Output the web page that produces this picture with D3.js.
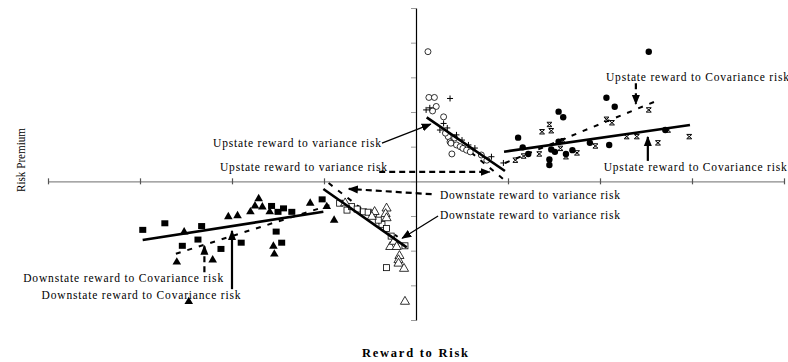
<!DOCTYPE html>
<html>
<head>
<meta charset="utf-8">
<script src="https://cdn.jsdelivr.net/npm/d3@7"></script>
<style>
  body { margin: 0; background: #fff; }
  text { font-family: "Liberation Serif", "Times New Roman", serif; fill: #000; }
</style>
</head>
<body>
<svg id="chart" width="788" height="362"></svg>
<script>
// axis ticks (reward to risk / risk premium units)
const xTicks = [-4, -3, -2, -1, 0, 1, 2, 3, 4];
const yTicks = [-4, -3, -2, -1, 0, 1, 2, 3, 4, 5];

// upstate, variance risk: open circles and plus signs
const upVarCircles = [
  [0.13, 3.74], [0.14, 2.42], [0.20, 2.42], [0.22, 2.16], [0.18, 2.03], [0.30, 1.86],
  [0.35, 1.29], [0.37, 1.14], [0.38, 1.10], [0.44, 1.05], [0.48, 1.00], [0.51, 0.95],
  [0.55, 0.90], [0.59, 0.85], [0.39, 0.79], [0.71, 0.76], [0.77, 0.61], [0.32, 1.39],
  [0.42, 1.25]
];
const upVarPlus = [
  [0.37, 2.39], [0.11, 2.06], [0.15, 2.12], [0.30, 1.67], [0.26, 1.48], [0.44, 1.34],
  [0.34, 1.54], [0.50, 1.19], [0.64, 0.96], [0.82, 0.71], [0.95, 0.53], [0.57, 1.05]
];
// upstate, covariance risk: filled circles and asterisks
const upCovDots = [
  [2.53, 3.74], [2.07, 2.41], [2.16, 2.15], [1.55, 2.01], [1.60, 1.85], [1.11, 1.26],
  [1.16, 0.98], [1.55, 1.14], [1.47, 0.92], [1.70, 0.90], [1.45, 0.63], [1.45, 0.47],
  [1.22, 0.79], [1.63, 0.79], [1.89, 1.11], [2.10, 1.05], [2.71, 1.48], [1.51, 0.85]
];
const upCovStars = [
  [1.45, 1.64], [1.37, 1.43], [1.47, 1.46], [2.07, 1.79], [2.13, 1.69], [2.53, 2.06],
  [2.29, 1.29], [2.40, 1.29], [2.63, 1.11], [2.97, 1.29], [2.74, 1.48], [1.17, 0.73],
  [1.34, 0.79], [1.57, 0.95], [1.63, 0.71], [1.75, 0.82], [1.95, 1.02], [1.60, 1.17],
  [1.08, 0.61]
];
// downstate, covariance risk: filled squares and filled triangles
const downCovSquares = [
  [-2.97, -1.40], [-2.73, -1.21], [-2.33, -1.29], [-2.54, -1.86], [-2.37, -1.68],
  [-2.12, -1.95], [-1.90, -1.77], [-1.57, -0.71], [-1.44, -0.78], [-1.50, -0.88],
  [-1.35, -0.88], [-1.02, -0.52], [-1.52, -1.45], [-1.46, -1.77]
];
const downCovTriangles = [
  [-1.71, -0.50], [-2.04, -1.02], [-1.94, -0.99], [-2.52, -1.46], [-1.80, -0.88],
  [-1.59, -0.88], [-1.55, -1.87], [-1.54, -2.10], [-2.21, -2.27], [-2.60, -2.33],
  [-1.15, -0.63], [-0.97, -0.73], [-0.89, -1.12], [-2.47, -3.47], [-1.67, -0.74],
  [-1.75, -0.71]
];
// downstate, variance risk: open squares and open triangles
const downVarSquares = [
  [-0.75, -0.83], [-0.70, -0.73], [-0.64, -0.80], [-0.57, -0.88], [-0.52, -0.89],
  [-0.46, -0.92], [-0.37, -1.24], [-0.32, -1.36], [-0.41, -1.12], [-0.27, -1.58],
  [-0.12, -1.86], [-0.32, -2.49], [-0.83, -0.63]
];
const downVarTriangles = [
  [-0.32, -0.78], [-0.33, -0.94], [-0.32, -1.06], [-0.45, -0.88], [-0.48, -1.02],
  [-0.28, -1.89], [-0.24, -1.74], [-0.21, -1.89], [-0.18, -2.15], [-0.19, -2.27],
  [-0.19, -2.37], [-0.13, -2.52], [-0.12, -3.47], [-0.77, -0.63]
];

// fitted lines: [start, end]
const upVarFit = [[0.116, 1.846], [0.967, 0.297]];
const upVarFitDash = [[0.50, 1.05], [0.97, 0.02]];
const upCovFit = [[0.957, 0.854], [2.978, 1.623]];
const upCovFitDash = [[0.967, 0.528], [2.652, 2.36]];
const downCovFit = [[-2.971, -1.694], [-1.007, -0.878]];
const downCovFitDash = [[-2.61, -2.09], [-0.935, -0.684]];
const downVarFit = [[-1.007, -0.222], [-0.101, -1.904]];
const downVarFitDash = [[-0.95, -0.05], [-0.20, -1.60]];

// callouts: label, label anchor, arrow from/to, arrow kind
const labels = [
  "Upstate reward to Covariance risk",
  "Upstate reward to Covariance risk",
  "Upstate reward to variance risk",
  "Upstate reward to variance risk",
  "Downstate reward to variance risk",
  "Downstate reward to variance risk",
  "Downstate reward to Covariance risk",
  "Downstate reward to Covariance risk"
];
const labelAt = [[2.065, 3.01], [2.04, 0.42], [-0.38, 1.10], [-2.13, 0.41],
                 [0.26, -0.40], [0.26, -0.97], [-4.27, -2.79], [-4.07, -3.28]];
const arrowFrom = [[2.39, 2.83], [2.52, 0.59], [-0.37, 1.10], [-0.40, 0.27],
                   [0.17, -0.37], [0.24, -1.00], [-2.30, -2.62], [-2.00, -3.11]];
const arrowTo = [[2.39, 2.23], [2.52, 1.28], [0.16, 1.65], [0.80, 0.27],
                 [-0.73, -0.22], [-0.15, -1.64], [-2.30, -1.86], [-2.00, -1.43]];
const arrowKind = ["dash", "solid", "thin", "dash", "dash", "thin", "dash", "solid"];

const svg = d3.select('svg#chart');

const x = d3.scaleLinear().domain([-4, 4]).range([48, 784]);
const y = d3.scaleLinear().domain([-4, 5]).range([320, 8]);

// arrowheads
const defs = svg.append('defs');
defs.append('marker')
  .attr('id', 'head')
  .attr('viewBox', '0 0 10 10')
  .attr('refX', 9).attr('refY', 5)
  .attr('markerWidth', 10).attr('markerHeight', 10)
  .attr('markerUnits', 'userSpaceOnUse')
  .attr('orient', 'auto')
  .append('path').attr('d', 'M0,1L10,5L0,9Z').attr('fill', '#000');

// x axis (gray, ticks across the line)
const xAxis = d3.axisBottom(x).tickValues(xTicks).tickSize(0).tickFormat('');
const gX = svg.append('g').attr('transform', `translate(0,${y(0)})`).call(xAxis);
gX.select('.domain').attr('stroke', '#8a8a8a').attr('stroke-width', 1.2);
gX.selectAll('.tick line').remove();
gX.selectAll('.tick').filter(d => d !== 0).append('line')
  .attr('y1', -3).attr('y2', 3).attr('stroke', '#555').attr('stroke-width', 1.2);

// y axis (black line, small gray ticks to the left)
const yAxis = d3.axisLeft(y).tickValues(yTicks).tickSize(5).tickSizeOuter(0).tickFormat('');
const gY = svg.append('g').attr('transform', `translate(${x(0)},0)`).call(yAxis);
gY.select('.domain').attr('stroke', '#000').attr('stroke-width', 1.2);
gY.selectAll('.tick line').attr('stroke', '#999');

// fitted lines
const line = d3.line().x(d => x(d[0])).y(d => y(d[1]));
[upVarFitDash, upCovFitDash, downCovFitDash, downVarFitDash].forEach(f => {
  svg.append('path').attr('d', line(f)).attr('fill', 'none')
    .attr('stroke', '#000').attr('stroke-width', 2).attr('stroke-dasharray', '5,7');
});

// markers
const pts = svg.append('g');
function plot(data, draw) {
  pts.selectAll(null).data(data).enter().append('g')
    .attr('transform', d => `translate(${x(d[0])},${y(d[1])})`)
    .each(function () { draw(d3.select(this)); });
}
const triSym = d3.symbol().type(d3.symbolTriangle);

plot(upVarCircles, g => g.append('circle').attr('r', 3).attr('fill', '#fff')
  .attr('stroke', '#000').attr('stroke-width', 0.8));
plot(upVarPlus, g => g.append('path').attr('d', 'M-3,0H3M0,-3V3')
  .attr('stroke', '#000').attr('stroke-width', 1));
plot(upCovDots, g => g.append('circle').attr('r', 3.2).attr('fill', '#000'));
plot(upCovStars, g => g.append('path')
  .attr('d', 'M-2.5,-2L2.5,2M-2.5,2L2.5,-2M-2.5,-2.2H2.5M-2.5,2.2H2.5')
  .attr('fill', 'none').attr('stroke', '#000').attr('stroke-width', 1));
plot(downCovSquares, g => g.append('rect').attr('x', -3.5).attr('y', -3)
  .attr('width', 7).attr('height', 6).attr('fill', '#000'));
plot(downCovTriangles, g => g.append('path').attr('d', triSym.size(32)())
  .attr('fill', '#000'));
plot(downVarSquares, g => g.append('rect').attr('x', -3).attr('y', -3)
  .attr('width', 6).attr('height', 6).attr('fill', '#fff')
  .attr('stroke', '#000').attr('stroke-width', 0.8));
plot(downVarTriangles, g => g.append('path').attr('d', triSym.size(36)())
  .attr('fill', '#fff').attr('stroke', '#000').attr('stroke-width', 0.8));

[upVarFit, upCovFit, downCovFit, downVarFit].forEach(f => {
  svg.append('path').attr('d', line(f)).attr('fill', 'none')
    .attr('stroke', '#000').attr('stroke-width', 2.6);
});

// callout arrows
arrowFrom.forEach((a, i) => {
  const k = arrowKind[i];
  svg.append('line')
    .attr('x1', x(a[0])).attr('y1', y(a[1]))
    .attr('x2', x(arrowTo[i][0])).attr('y2', y(arrowTo[i][1]))
    .attr('stroke', '#000')
    .attr('stroke-width', k === 'thin' ? 1.3 : 2.2)
    .attr('stroke-dasharray', k === 'dash' ? '6,4' : null)
    .attr('marker-end', 'url(#head)');
});

// callout labels
const labelWidth = [183, 183, 168, 167, 180, 180, 200, 199];
labels.forEach((t, i) => {
  const third = i === 2;
  svg.append('text')
    .attr('x', x(labelAt[i][0]))
    .attr('y', y(labelAt[i][1]))
    .attr('dy', '0.35em')
    .attr('text-anchor', third ? 'end' : 'start')
    .attr('font-size', 11.5)
    .attr('textLength', labelWidth[i])
    .attr('lengthAdjust', 'spacing')
    .text(t);
});

// axis titles
svg.append('text')
  .attr('x', 415).attr('y', 357)
  .attr('text-anchor', 'middle')
  .attr('font-size', 12.5).attr('font-weight', 'bold')
  .attr('textLength', 106).attr('lengthAdjust', 'spacing')
  .text('Reward to Risk');
svg.append('text')
  .attr('transform', 'translate(25,160) rotate(-90)')
  .attr('text-anchor', 'middle')
  .attr('font-size', 13.5)
  .attr('textLength', 64).attr('lengthAdjust', 'spacingAndGlyphs')
  .text('Risk Premium');
</script>
</body>
</html>
